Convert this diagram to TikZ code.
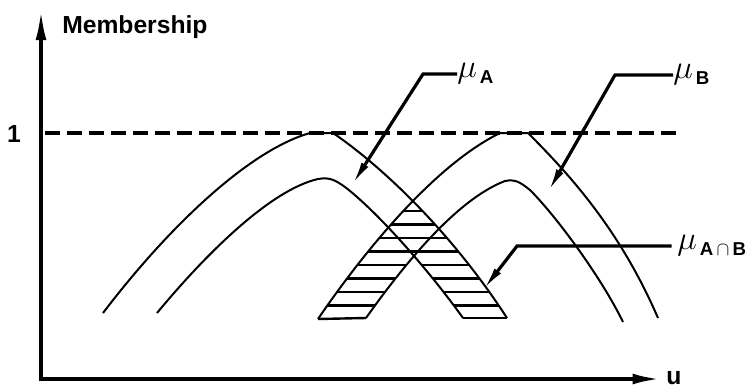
\documentclass[tikz,border=0pt]{standalone}
\usepackage{amsmath}
\usepackage{fontspec}
\setmainfont{Liberation Sans}
\usetikzlibrary{arrows.meta}

% label with a big mu and a lowered subscript
\newcommand{\mulab}[1]{{\fontsize{24.88}{26}\selectfont$\mu$}\raisebox{-4pt}{\,#1}}

\begin{document}
\begin{tikzpicture}[
x=0.75pt,y=-0.75pt,
axisline/.style={line width=3pt,{Latex[length=24pt,width=8pt]}-{Latex[length=22pt,width=8pt]}},
curve/.style={line width=1.5pt},
hatch/.style={line width=1.8pt},
lead/.style={line width=2.4pt,-{Latex[length=18pt,width=6pt]}},
lbl/.style={font=\bfseries\fontsize{18.5}{20}\selectfont,inner sep=0pt},
sub/.style={font=\bfseries\fontsize{14}{16}\selectfont,inner sep=0pt}
]
\useasboundingbox (0,0) rectangle (752,390);

% the four membership curves
\def\Aouter{(103,313) .. controls (170,225) and (250,150) .. (310,133) -- (333,133) .. controls (380,165) and (450,230) .. (507,318)}
\def\Ainner{(157,313) .. controls (205,255) and (270,190) .. (318,179) .. controls (330,177) and (335,180) .. (345,187) .. controls (375,210) and (425,265) .. (463,318)}
\def\Bouter{(318,319) .. controls (365,250) and (435,165) .. (500,133) -- (528,133) .. controls (570,175) and (620,230) .. (658,318)}
\def\Binner{(366,318) .. controls (400,270) and (455,200) .. (505,181) .. controls (515,179) and (520,182) .. (530,190) .. controls (555,215) and (600,275) .. (623,322)}

% hatched A n B region
\begin{scope}[even odd rule]
\clip \Bouter -- (658,400) -- (318,400) -- cycle;
\clip \Aouter -- (507,330) -- (103,330) -- cycle \Ainner -- (463,330) -- (157,330) -- cycle;
\foreach \y in {211,224.5,...,306} \draw[hatch] (300,\y) -- (540,\y);
\end{scope}
\begin{scope}[even odd rule]
\clip \Aouter -- (507,400) -- (103,400) -- cycle;
\clip \Bouter -- (658,330) -- (318,330) -- cycle \Binner -- (623,330) -- (366,330) -- cycle;
\foreach \y in {211,224.5,...,306} \draw[hatch] (300,\y) -- (540,\y);
\end{scope}

\draw[curve] \Aouter;
\draw[curve] \Ainner;
\draw[curve] \Bouter;
\draw[curve] \Binner;
\coordinate (boutS) at (318,319);
\coordinate (binS) at (366,318);
\coordinate (ainE) at (463,318);
\coordinate (aoutE) at (507,318);
\draw[hatch] (boutS) -- (binS);
\draw[hatch] (ainE) -- (aoutE);

% axes
\coordinate (ytop) at (41,8);
\coordinate (orig) at (41,379);
\coordinate (xend) at (662,379);
\draw[axisline] (ytop) -- (orig) -- (xend);
\node[lbl,anchor=base west] (ylab) at (62,33) {Membership};
\node[lbl,anchor=base west] (xlab) at (666,384) {u};
\node[lbl] (one) at (14,134) {1};
\coordinate (lvl0) at (45,133);
\coordinate (lvl1) at (680,133);
\draw[line width=3pt,dash pattern=on 11pt off 5.5pt] (lvl0) -- (lvl1);

% labels and leaders
\node[sub,anchor=west] (muA) at (457,74) {\mulab{A}};
\node[sub,anchor=west] (muB) at (673,75) {\mulab{B}};
\node[sub,anchor=west] (muAB) at (677,246) {\mulab{A$\,\cap\,$B}};
\coordinate (kA) at (423,74);
\coordinate (kB) at (615,75);
\coordinate (kAB) at (517,246);
\coordinate (tipA) at (352,185);
\coordinate (tipB) at (548,192);
\coordinate (tipAB) at (483,290);
\draw[lead] (muA.west) -- (kA) -- (tipA);
\draw[lead] (muB.west) -- (kB) -- (tipB);
\draw[lead] ([xshift=-4pt]muAB.west) -- (kAB) -- (tipAB);
\end{tikzpicture}
\end{document}
